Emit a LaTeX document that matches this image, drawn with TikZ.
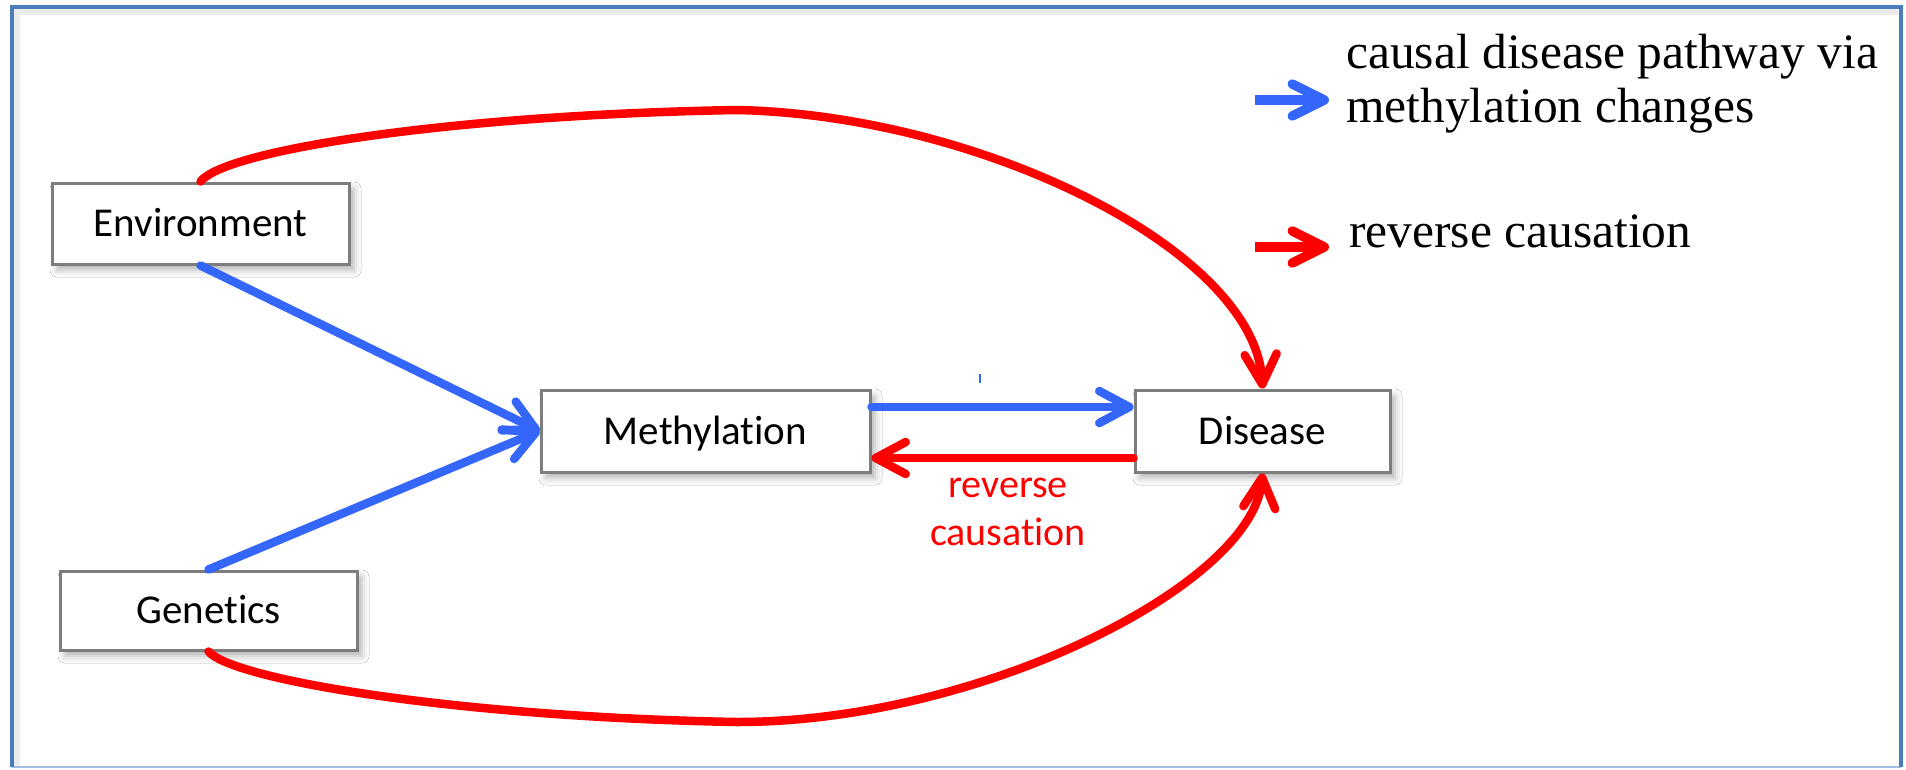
\documentclass[tikz,border=0pt]{standalone}
\usepackage{fontspec}
\setmainfont{Carlito}[Ligatures=NoCommon]
\newfontfamily\legendfont{Liberation Serif}
\usetikzlibrary{arrows.meta,shadows.blur}
\definecolor{cblue}{RGB}{52,102,250}
\definecolor{cred}{RGB}{255,0,0}
\definecolor{cgray}{RGB}{125,125,125}
\definecolor{cframe}{RGB}{74,126,187}
\definecolor{cframelight}{RGB}{160,190,225}
\begin{document}
\begin{tikzpicture}[x=1pt,y=-1pt,
  box/.style={draw=cgray, line width=3pt, fill=white, rectangle, inner sep=0pt,
    text height=26pt, text depth=0pt, font=\fontsize{41}{49}\selectfont,
    blur shadow={shadow xshift=5pt, shadow yshift=-6pt, shadow blur radius=7pt, shadow opacity=30}},
  link/.style={line width=8.5pt, line cap=round, -{Straight Barb[length=30pt,width=32pt,round]}},
  bluelink/.style={link, draw=cblue},
  redlink/.style={link, draw=cred},
  legarrow/.style={line width=9.5pt, -{Straight Barb[length=32pt,width=32pt,round]}},
  redtext/.style={text=cred, inner sep=0pt, font=\fontsize{40}{48}\selectfont},
  legtext/.style={inner sep=0pt, font=\legendfont\fontsize{49.5}{54}\selectfont}
]
\useasboundingbox (0,0) rectangle (1906,769);
% frame
\fill[white] (12,7) rectangle (1901,767);
\draw[black!8, line width=6pt] (17,766) -- (17,12) -- (1898,12);
\draw[cframelight, line width=2.5pt] (12,767) -- (1901,767);
\draw[cframe, line width=4pt] (12,767) -- (12,7) -- (1901,7) -- (1901,767);

% nodes
\node[box, minimum width=297pt, minimum height=81pt] (env) at (200.5,223.5) {Environment};
\node[box, minimum width=297pt, minimum height=79pt] (gen) at (208.5,610.5) {Genetics};
\node[box, minimum width=329pt, minimum height=82pt] (meth) at (705.5,431) {Methylation};
\node[box, minimum width=255pt, minimum height=82pt] (dis) at (1262.5,431) {Disease};

% blue causal connectors
\draw[bluelink] (env.south) -- (meth.west);
\draw[bluelink] (gen.north) -- (meth.west);
\draw[bluelink] ([yshift=24pt]meth.east) -- ([yshift=24pt]dis.west);
\draw[cblue, line width=2.5pt] (980,374) -- (980,383);

% red reverse connectors
\draw[redlink] ([yshift=-27pt]dis.west) -- ([yshift=-27pt]meth.east);
\coordinate (tp) at (737,110);
\draw[redlink] (env.north) .. controls (225,150) and (450,115) .. (tp)
  .. controls (980,115) and (1255,250) .. (dis.north);
\coordinate (bp) at (737,722);
\draw[redlink] (gen.south) .. controls (233,680) and (458,717) .. (bp)
  .. controls (980,722) and (1252,585) .. (dis.south);

% red label
\node[redtext, anchor=base] (rc1) at (1008,497) {reverse};
\node[redtext, anchor=base] (rc2) at (1008,545) {causation};

% legend
\coordinate (la1) at (1255,100);
\coordinate (la2) at (1329,100);
\draw[legarrow, draw=cblue] (la1) -- (la2);
\coordinate (lr1) at (1255,247);
\coordinate (lr2) at (1329,247);
\draw[legarrow, draw=cred] (lr1) -- (lr2);
\node[legtext, anchor=base west] (l1a) at (1346,68) {causal disease pathway via};
\node[legtext, anchor=base west] (l1b) at (1346,122) {methylation changes};
\node[legtext, anchor=base west] (l2) at (1349,247) {reverse causation};
\end{tikzpicture}
\end{document}
